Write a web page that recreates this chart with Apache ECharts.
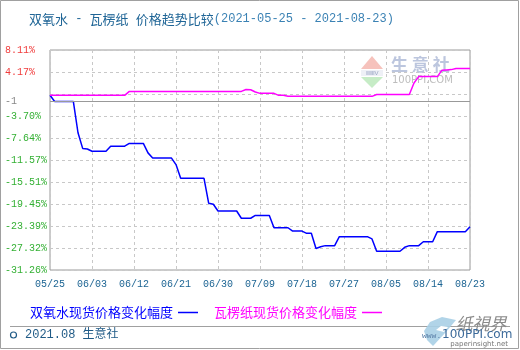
<!DOCTYPE html>
<html>
<head>
<meta charset="utf-8">
<script src="https://cdn.jsdelivr.net/npm/echarts@6/dist/echarts.min.js"></script>
<style>
html,body{margin:0;padding:0;background:#fff;}
#c{width:520px;height:350px;}
</style>
</head>
<body>
<div id="c"></div>
<script>
// ---- data ----
var startDate = '2021-05-25';
var dayCount = 91;
var seriesNames = ['双氧水现货价格变化幅度', '瓦楞纸现货价格变化幅度'];
var h2o2Change = [
  0, -1.1, -1.1, -1.1, -1.1, -1.1, -6.7, -9.5, -9.6, -10.0,
  -10.0, -10.0, -10.0, -9.1, -9.1, -9.1, -9.1, -8.6, -8.6, -8.6,
  -8.6, -10.3, -11.2, -11.2, -11.2, -11.2, -11.2, -12.4, -14.85, -14.85,
  -14.85, -14.85, -14.85, -14.85, -19.3, -19.5, -20.7, -20.7, -20.7, -20.7,
  -20.7, -22.0, -22.0, -22.0, -21.5, -21.5, -21.5, -21.5, -23.7, -23.7,
  -23.7, -23.7, -24.3, -24.3, -24.3, -24.7, -24.7, -27.4, -27.1, -26.9,
  -26.9, -26.9, -25.3, -25.3, -25.3, -25.3, -25.3, -25.3, -25.3, -25.7,
  -27.9, -27.9, -27.9, -27.9, -27.9, -27.9, -27.2, -26.9, -26.9, -26.9,
  -26.2, -26.2, -26.2, -24.4, -24.4, -24.4, -24.4, -24.4, -24.4, -24.4,
  -23.5
];
var paperChange = [
  0, 0, 0, 0, 0, 0, 0, 0, 0, 0,
  0, 0, 0, 0, 0, 0, 0, 0.7, 0.7, 0.7,
  0.7, 0.7, 0.7, 0.7, 0.7, 0.7, 0.7, 0.7, 0.7, 0.7,
  0.7, 0.7, 0.7, 0.7, 0.7, 0.7, 0.7, 0.7, 0.7, 0.7,
  0.7, 0.7, 1.05, 1.0, 0.6, 0.35, 0.35, 0.35, 0.35, 0.0,
  0.0, -0.18, -0.18, -0.18, -0.18, -0.18, -0.18, -0.18, -0.18, -0.18,
  -0.18, -0.18, -0.18, -0.18, -0.18, -0.18, -0.18, -0.18, -0.18, -0.18,
  0.15, 0.15, 0.15, 0.15, 0.15, 0.15, 0.15, 0.15, 2.2, 3.35,
  3.35, 3.35, 3.35, 3.35, 4.5, 4.55, 4.6, 4.8, 4.8, 4.8,
  4.8
];
var yMin = -31.26, yMax = 8.11, yStep = 3.937;
var yTickLabels = ['-31.26%', '-27.32%', '-23.39%', '-19.45%', '-15.51%', '-11.57%', '-7.64%', '-3.70%', '', '4.17%', '8.11%'];
var refLineValue = -1;
var refLineLabel = '-1';
var titleParts = ['双氧水', '瓦楞纸', '价格趋势比较'];
var titleDates = '(2021-05-25 - 2021-08-23)';
var footerText = '2021.08 生意社';

// ---- categories ----
var dates = [];
(function(){
  var p = startDate.split('-');
  var d0 = new Date(Date.UTC(+p[0], +p[1]-1, +p[2]));
  for (var i = 0; i < dayCount; i++) {
    var d = new Date(d0.getTime() + i*86400000);
    var mm = ('0' + (d.getUTCMonth()+1)).slice(-2);
    var dd = ('0' + d.getUTCDate()).slice(-2);
    dates.push(mm + '/' + dd);
  }
})();

var MONO = '"Liberation Mono", "DejaVu Sans Mono", monospace';
var CJK = '"Noto Sans CJK SC", sans-serif';
var MIX = '"Liberation Mono", "Noto Sans CJK SC", monospace';

var chart = echarts.init(document.getElementById('c'), null, {renderer:'canvas'});
chart.setOption({
  animation: false,
  backgroundColor: '#fff',
  title: {
    left: 24, top: 5,
    text: '{a|' + titleParts[0] + '}{s| - }{a|' + titleParts[1] + '}{s| }{a|' + titleParts[2] + '}{b|' + titleDates + '}',
    textStyle: {
      fontWeight: 'normal',
      rich: {
        a: {fontFamily: CJK, fontSize: 13, fontWeight: 'normal', color: '#1f6596', lineHeight: 18},
        s: {fontFamily: MONO, fontSize: 12, fontWeight: 'normal', color: '#1f6596', lineHeight: 18},
        b: {fontFamily: MONO, fontSize: 12, fontWeight: 'normal', color: '#3b82b4', lineHeight: 18}
      }
    }
  },
  legend: {
    left: 25, top: 301,
    align: 'right',
    itemWidth: 20, itemHeight: 1.5, itemGap: 16,
    icon: 'rect',
    textStyle: {fontFamily: CJK, fontSize: 13},
    data: [
      {name: seriesNames[0], textStyle: {color: '#0000ff'}},
      {name: seriesNames[1], textStyle: {color: '#ff00ff'}}
    ]
  },
  grid: {
    left: 50, right: 50, top: 50, bottom: 80,
    show: true, borderColor: '#9a9a9a', borderWidth: 1
  },
  xAxis: {
    type: 'category',
    data: dates,
    boundaryGap: false,
    axisLine: {show: false},
    axisTick: {show: false},
    axisLabel: {interval: 8, fontFamily: MONO, fontSize: 10, color: '#1c6493', margin: 9},
    splitLine: {show: true, interval: 8, lineStyle: {color: '#c8c8c8', type: [3, 3]}}
  },
  yAxis: {
    type: 'value',
    min: yMin, max: yMax, interval: yStep,
    axisLine: {show: false},
    axisTick: {show: false},
    axisLabel: {
      align: 'left', margin: 45,
      fontFamily: MONO, fontSize: 10,
      formatter: function (v) {
        var i = Math.round((v - yMin) / yStep);
        return yTickLabels[i] || '';
      },
      color: function (v) {
        var i = Math.round((v - yMin) / yStep);
        var t = yTickLabels[i] || '';
        return t.charAt(0) === '-' ? '#33b033' : '#f03c3c';
      }
    },
    splitLine: {show: true, lineStyle: {color: '#c8c8c8', type: [3, 3]}}
  },
  series: [
    {
      name: seriesNames[0], type: 'line', data: h2o2Change,
      showSymbol: false, symbol: 'none',
      lineStyle: {color: '#0000ff', width: 1.5},
      itemStyle: {color: '#0000ff'},
      z: 3,
      markLine: {
        silent: true, symbol: 'none',
        lineStyle: {color: '#999', width: 1, type: 'solid'},
        label: {position: 'start', distance: 33, formatter: refLineLabel, color: '#888', fontFamily: MONO, fontSize: 10},
        data: [{yAxis: refLineValue}]
      }
    },
    {
      name: seriesNames[1], type: 'line', data: paperChange,
      showSymbol: false, symbol: 'none',
      lineStyle: {color: '#ff00ff', width: 1.5},
      itemStyle: {color: '#ff00ff'},
      z: 4
    }
  ],
  graphic: [
    {type: 'rect', silent: true, shape: {x: 0.5, y: 0.5, width: 518, height: 348}, style: {fill: 'none', stroke: '#a0a0a0', lineWidth: 1}},
    // watermark logo in plot
    {type: 'polygon', silent: true, z: 1, shape: {points: [[372, 56], [361, 69], [383, 69]]}, style: {fill: '#f6c2bc'}},
    {type: 'rect', silent: true, z: 1, shape: {x: 361, y: 70, width: 22, height: 6}, style: {fill: '#eef0f6'}},
    {type: 'text', silent: true, z: 1, style: {x: 372, y: 73, text: 'ⅡⅢⅣ', fill: '#9aa6c4', font: '6px ' + MONO, align: 'center', verticalAlign: 'middle'}},
    {type: 'polygon', silent: true, z: 1, shape: {points: [[361, 77], [383, 77], [372, 88]]}, style: {fill: '#c6ecc6'}},
    {type: 'text', silent: true, z: 1, style: {x: 391, y: 65, text: '生 意 社', fill: '#bcc6de', font: 'bold 17px ' + CJK, verticalAlign: 'middle'}},
    {type: 'text', silent: true, z: 1, style: {x: 392, y: 80, text: '100PPI.COM', fill: '#bdbdbd', font: '10px "DejaVu Sans", sans-serif', verticalAlign: 'middle'}},
    // footer
    {type: 'line', silent: true, shape: {x1: 10, y1: 326.5, x2: 510, y2: 326.5}, style: {stroke: '#a0a0a0', lineWidth: 1}},
    {type: 'circle', silent: true, shape: {cx: 13.5, cy: 335, r: 3}, style: {fill: 'none', stroke: '#1f5a86', lineWidth: 1.2}},
    {type: 'text', silent: true, style: {x: 25, y: 335, text: footerText, fill: '#1f5a86', font: '12px ' + MIX, verticalAlign: 'middle'}},
    // paperinsight logo
    {type: 'polygon', silent: true, shape: {points: [[424, 331], [430, 322], [442, 317], [456, 320], [446, 332], [433, 346], [427, 340]]}, style: {fill: '#a9cfe6', opacity: 0.9}},
    {type: 'polygon', silent: true, shape: {points: [[436, 330], [441, 326], [448, 327], [444, 332]]}, style: {fill: '#ffffff'}},
    {type: 'text', silent: true, style: {x: 481, y: 324, text: '纸視界', fill: '#8a8a8a', font: 'italic 17px ' + CJK, align: 'center', verticalAlign: 'middle'}},
    {type: 'text', silent: true, style: {x: 422, y: 336, text: 'www.', fill: '#5a7fa8', font: '8px ' + MONO, verticalAlign: 'middle'}},
    {type: 'text', silent: true, style: {x: 442, y: 335, text: '100PPI.com', fill: '#3c6a9a', font: '12px "DejaVu Sans", sans-serif', verticalAlign: 'middle'}},
    {type: 'text', silent: true, style: {x: 508, y: 344, text: 'paperinsight.net', fill: '#777', font: '7px "DejaVu Sans", sans-serif', align: 'right', verticalAlign: 'middle'}}
  ]
});
</script>
</body>
</html>
